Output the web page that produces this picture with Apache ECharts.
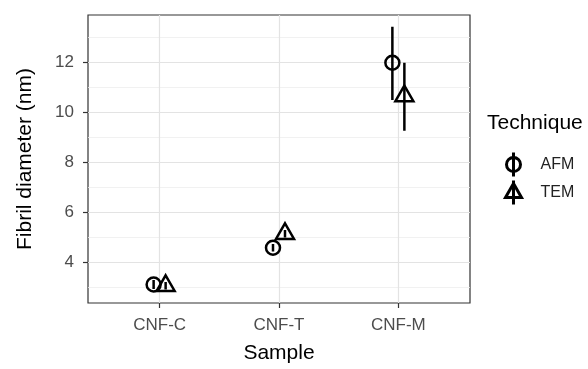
<!DOCTYPE html>
<html>
<head>
<meta charset="utf-8">
<script src="https://cdn.jsdelivr.net/npm/echarts@6/dist/echarts.min.js"></script>
<style>
  html, body { margin: 0; padding: 0; background: #fff; }
  #main { width: 588px; height: 369px; }
</style>
</head>
<body>
<div id="main"></div>
<script>
// values
const samples = ['CNF-C', 'CNF-T', 'CNF-M'];
const afmMean = [3.1, 4.57, 11.97];
const afmLow = [2.92, 4.42, 10.48];
const afmHigh = [3.28, 4.72, 13.41];
const temMean = [3.05, 5.13, 10.64];
const temLow = [2.9, 4.98, 9.25];
const temHigh = [3.2, 5.28, 11.97];
const yMajorTicks = [4, 6, 8, 10, 12];
const yMinorTicks = [3, 5, 7, 9, 11, 13];
const xTicks = [1, 2, 3];

const FONT = 'Liberation Sans, Arial, sans-serif';
const DODGE = 6;

let chart = echarts.init(document.getElementById('main'));

function buildData(mean, low, high) {
  let rows = [];
  for (let i = 0; i < samples.length; i++) {
    rows.push([i + 1, mean[i], low[i], high[i]]);
  }
  return rows;
}

// draws the error bar plus an open marker, dodged sideways by a few pixels
function makeRender(dodge, shape) {
  return function (params, api) {
    const x = api.value(0);
    const mid = api.coord([x, api.value(1)]);
    const lo = api.coord([x, api.value(2)]);
    const hi = api.coord([x, api.value(3)]);
    const px = mid[0] + dodge;
    const py = mid[1];
    const stroke = { stroke: '#000', lineWidth: 2.5, fill: 'none' };
    let marker;
    if (shape === 'circle') {
      marker = { type: 'circle', shape: { cx: px, cy: py, r: 7 }, style: stroke };
    } else {
      const s = 18, h = s * Math.sqrt(3) / 2;
      marker = {
        type: 'polygon',
        shape: { points: [[px, py - 2 * h / 3], [px + s / 2, py + h / 3], [px - s / 2, py + h / 3]] },
        style: stroke
      };
    }
    return {
      type: 'group',
      children: [
        { type: 'line', shape: { x1: px, y1: hi[1], x2: px, y2: lo[1] }, style: { stroke: '#000', lineWidth: 2.5 } },
        marker
      ]
    };
  };
}

// legend keys: the point with its error bar through it
const circleIcon = 'path://M8,0L8,24M1,12A7,7,0,1,1,15,12A7,7,0,1,1,1,12Z';
const triangleIcon = 'path://M8,0L8,24M0,17L8,3L16,17Z';

const yRange = { min: 2.36, max: 13.88 };

let option = {
  animation: false,
  backgroundColor: '#fff',
  grid: {
    left: 88, top: 15, right: 118, bottom: 65,
    show: true, borderColor: '#333', borderWidth: 1.2, backgroundColor: 'transparent'
  },
  title: {
    text: 'Technique',
    left: 482, top: 108,
    textStyle: { fontFamily: FONT, fontSize: 21, fontWeight: 'normal', color: '#000' }
  },
  legend: {
    orient: 'vertical',
    left: 499, top: 146,
    itemWidth: 16, itemHeight: 24, itemGap: 1,
    symbolKeepAspect: true,
    selectedMode: false,
    data: [
      { name: 'AFM', icon: circleIcon },
      { name: 'TEM', icon: triangleIcon }
    ],
    itemStyle: { color: 'rgba(0,0,0,0)', borderColor: '#000', borderWidth: 3 },
    textStyle: { fontFamily: FONT, fontSize: 16, color: '#222', padding: [0, 0, 0, 14] }
  },
  xAxis: {
    type: 'value',
    min: 0.4, max: 3.6,
    name: 'Sample',
    nameLocation: 'middle',
    nameGap: 40,
    nameTextStyle: { fontFamily: FONT, fontSize: 21, color: '#000' },
    axisLine: { show: false },
    axisTick: { show: true, length: 5, customValues: xTicks, lineStyle: { color: '#333', width: 1.2 } },
    axisLabel: {
      customValues: xTicks, margin: 14,
      fontFamily: FONT, fontSize: 17, color: '#4d4d4d',
      formatter: function (v) { return samples[Math.round(v) - 1]; }
    },
    splitLine: { show: true, lineStyle: { color: '#e3e3e3', width: 1.2 } }
  },
  yAxis: [
    {
      type: 'value',
      min: yRange.min, max: yRange.max,
      name: 'Fibril diameter (nm)',
      nameLocation: 'middle',
      nameGap: 52,
      nameTextStyle: { fontFamily: FONT, fontSize: 21, color: '#000' },
      axisLine: { show: false },
      axisTick: { show: true, length: 5, customValues: yMajorTicks, lineStyle: { color: '#333', width: 1.2 } },
      axisLabel: { customValues: yMajorTicks, margin: 14, fontFamily: FONT, fontSize: 17, color: '#4d4d4d' },
      splitLine: { show: true, lineStyle: { color: '#e3e3e3', width: 1.2 } }
    },
    {
      type: 'value',
      min: yRange.min, max: yRange.max,
      position: 'left',
      axisLine: { show: false },
      axisTick: { show: false, customValues: yMinorTicks },
      axisLabel: { show: false, customValues: yMinorTicks },
      splitLine: { show: true, lineStyle: { color: '#ededed', width: 0.8 } }
    }
  ],
  series: [
    {
      name: 'AFM',
      type: 'custom',
      renderItem: makeRender(-DODGE, 'circle'),
      encode: { x: 0, y: [1, 2, 3] },
      data: buildData(afmMean, afmLow, afmHigh),
      z: 5
    },
    {
      name: 'TEM',
      type: 'custom',
      renderItem: makeRender(DODGE, 'triangle'),
      encode: { x: 0, y: [1, 2, 3] },
      data: buildData(temMean, temLow, temHigh),
      z: 5
    }
  ]
};

chart.setOption(option);
</script>
</body>
</html>
